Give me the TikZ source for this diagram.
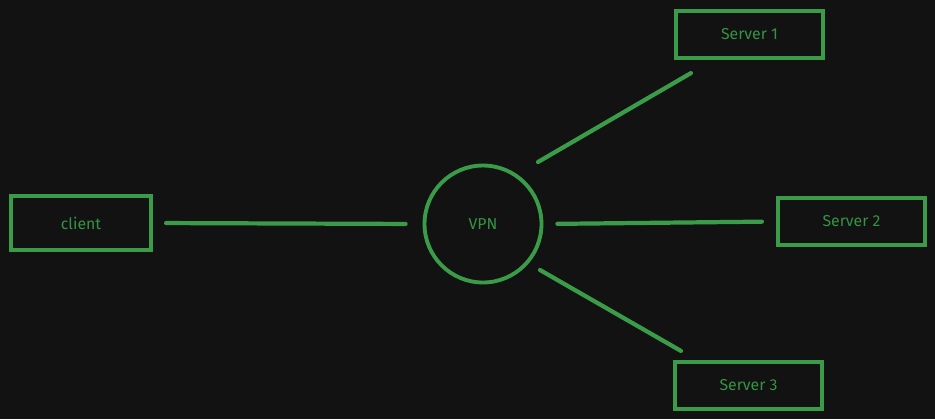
\documentclass[tikz,border=0pt]{standalone}
\usepackage{fontspec}
\setmainfont{Fira Sans}
\usetikzlibrary{calc}
\definecolor{canvas}{RGB}{18,18,18}
\definecolor{wire}{RGB}{58,156,72}
\definecolor{label}{RGB}{52,148,66}
\begin{document}
\begin{tikzpicture}[x=0.02cm,y=-0.02cm,
  box/.style={draw=wire,line width=2.4pt,rectangle,minimum width=2.94cm,minimum height=0.94cm,
    text=label,font=\fontsize{9}{11}\selectfont},
  hub/.style={draw=wire,line width=2.2pt,circle,minimum size=2.34cm,
    text=label,font=\fontsize{9}{11}\selectfont},
  link/.style={draw=wire,line width=2.4pt,line cap=round}]
  \fill[canvas] (0,0) rectangle (935,419);
  \useasboundingbox (0,0) rectangle (935,419);
  \node[box,minimum width=2.8cm,minimum height=1.08cm] (client) at (81,223) {client};
  \node[hub] (vpn) at (483,224) {VPN};
  \node[box] (s1) at (749.5,34.5) {Server 1};
  \node[box] (s2) at (851.5,221.5) {Server 2};
  \node[box] (s3) at (748.5,385.5) {Server 3};
  \draw[link,shorten <=0.26cm,shorten >=0.34cm] (client.east) -- (vpn.west);
  \draw[link,shorten <=0.28cm,shorten >=0.28cm] (vpn.east) -- (s2.west);
  \draw[link] ($(vpn)+(55,-62)$) -- ($(s1.south west)+(17,13)$);
  \draw[link] ($(vpn)+(57,46)$) -- ($(s3.north west)+(8,-9)$);
\end{tikzpicture}
\end{document}
